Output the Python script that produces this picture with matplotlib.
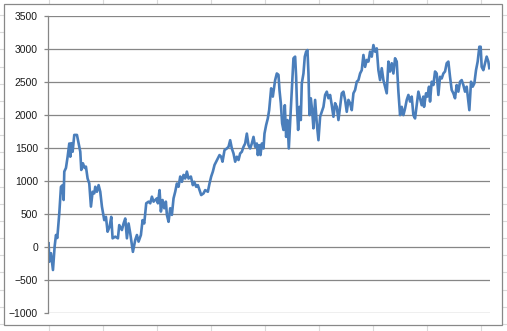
import matplotlib
matplotlib.use("Agg")
import matplotlib.pyplot as plt
from matplotlib.patches import Rectangle

# series (x = step index, y = cumulative value)
steps = [1, 3, 8, 14, 19, 23, 27, 33, 38, 43, 46, 48, 53, 58, 63, 66, 69, 73, 78, 86,
         91, 96, 99, 104, 109, 113, 118, 123, 128, 133, 138, 141, 146, 151, 156, 161, 168, 173, 178, 184,
         189, 193, 201, 209, 213, 221, 226, 231, 236, 241, 246, 251, 254, 261, 266, 271, 278, 283, 288, 294,
         301, 306, 311, 316, 321, 326, 329, 334, 338, 343, 348, 353, 356, 361, 366, 371, 376, 381, 386, 391,
         396, 401, 406, 411, 416, 421, 428, 434, 438, 444, 449, 459, 466, 471, 479, 484, 489, 494, 499, 504,
         509, 514, 519, 523, 529, 536, 541, 546, 551, 556, 561, 566, 571, 576, 581, 586, 591, 596, 601, 606,
         611, 616, 621, 626, 629, 633, 637, 641, 646, 649, 654, 659, 663, 669, 674, 681, 686, 691, 694, 698,
         702, 706, 710, 714, 718, 722, 726, 730, 733, 736, 741, 744, 747, 750, 754, 758, 761, 766, 770, 774,
         778, 781, 784, 788, 792, 796, 801, 806, 811, 816, 821, 826, 831, 836, 841, 846, 851, 856, 861, 866,
         871, 876, 881, 886, 891, 896, 901, 906, 911, 916, 921, 926, 931, 936, 941, 946, 951, 956, 961, 966,
         971, 976, 981, 986, 991, 996, 1001, 1006, 1011, 1016, 1021, 1026, 1031, 1036, 1041, 1046, 1051, 1056, 1061, 1066,
         1071, 1076, 1081, 1086, 1091, 1096, 1101, 1106, 1111, 1121, 1126, 1128, 1134, 1138, 1143, 1146, 1151, 1156, 1161, 1166,
         1171, 1176, 1181, 1186, 1191, 1196, 1201, 1206, 1211, 1216, 1221, 1226, 1231, 1236, 1241, 1246, 1251, 1256, 1261, 1264,
         1269, 1274, 1279, 1284, 1289, 1294, 1298, 1301, 1306, 1311, 1316, 1321, 1324]
values = [60, -220, -90, -345, 10, 185, 140, 515, 915, 940, 715, 1145, 1200, 1370, 1570, 1370, 1575, 1445, 1700, 1700,
          1575, 1445, 1170, 1270, 1200, 1220, 1040, 965, 615, 840, 815, 915, 840, 940, 840, 615, 410, 460, 235, 310,
          460, 135, 160, 135, 335, 260, 360, 435, 135, 360, 210, 35, -70, 110, 185, 85, 185, 410, 360, 665,
          690, 665, 765, 690, 715, 740, 665, 865, 540, 715, 590, 690, 490, 385, 590, 490, 740, 840, 965, 915,
          1070, 990, 1095, 1040, 1145, 1040, 1070, 940, 990, 915, 940, 790, 815, 865, 840, 965, 1070, 1145, 1245, 1295,
          1345, 1395, 1370, 1295, 1470, 1495, 1520, 1620, 1495, 1420, 1295, 1370, 1320, 1420, 1445, 1520, 1570, 1720, 1545, 1495,
          1570, 1670, 1520, 1570, 1395, 1545, 1395, 1570, 1495, 1720, 1850, 1950, 2075, 2405, 2280, 2530, 2630, 2610, 2380, 2180,
          1875, 1775, 2150, 1670, 1925, 1495, 1875, 2280, 2580, 2860, 2885, 2580, 2075, 1775, 2125, 1925, 2480, 2630, 2885, 2960,
          2985, 2630, 2000, 2255, 2075, 1800, 2230, 1875, 1620, 1975, 2050, 2125, 2305, 2355, 2255, 2305, 2150, 1975, 2180, 2125,
          1925, 2125, 2330, 2355, 2230, 2050, 2230, 2180, 2075, 2330, 2380, 2505, 2530, 2630, 2680, 2910, 2730, 2835, 2810, 2960,
          2885, 3060, 2960, 3010, 2680, 2530, 2710, 2530, 2430, 2330, 2810, 2660, 2785, 2630, 2860, 2810, 2355, 2000, 2125, 2000,
          2100, 2230, 2305, 2205, 2280, 2000, 1950, 2150, 2355, 2150, 2280, 2125, 2330, 2280, 2430, 2205, 2505, 2455, 2660, 2630,
          2305, 2580, 2555, 2630, 2660, 2785, 2810, 2580, 2380, 2330, 2255, 2455, 2355, 2505, 2530, 2455, 2355, 2430, 2205, 2075,
          2505, 2430, 2480, 2680, 2810, 3035, 3035, 2730, 2680, 2785, 2885, 2810, 2710]

yticks = list(range(-1000, 3501, 500))

W, H = 507, 331
fig = plt.figure(figsize=(W / 100, H / 100), dpi=100)

# spreadsheet cells behind the chart
bg = fig.add_axes([0, 0, 1, 1])
bg.set_xlim(0, W)
bg.set_ylim(H, 0)
bg.axis("off")
for cx in range(-5, W + 60, 54):
    bg.axvline(cx, color="#dadada", lw=0.8, zorder=1)
y = 15.1
while y < H:
    bg.axhline(y, color="#dadada", lw=0.8, zorder=1)
    y += 17.15
bg.add_patch(Rectangle((4, 4), 498, 321, facecolor="white", edgecolor="#888888",
                       lw=0.9, zorder=3))

# chart plot area
ax = fig.add_axes([48.3 / W, (H - 313.3) / H, (490 - 48.3) / W, (313.3 - 16) / H])
ax.set_facecolor("none")
ax.plot(steps, values, color="#4a7ebb", lw=1.9, solid_joinstyle="round")
ax.set_xlim(0, 1326)
ax.set_ylim(-1000, 3500)
ax.set_yticks(yticks)
ax.yaxis.grid(True, color="#868686", lw=0.9)
ax.set_axisbelow(True)
ax.set_xticks([])
for s in ["top", "right", "bottom"]:
    ax.spines[s].set_visible(False)
ax.spines["left"].set_color("#868686")
ax.spines["left"].set_linewidth(0.9)
ax.tick_params(axis="y", length=3, width=0.9, color="#868686", pad=4.5,
               labelsize=7.5, labelcolor="#1a1a1a")
for lbl in ax.get_yticklabels():
    lbl.set_fontfamily("Liberation Sans")

fig.savefig("out.png", dpi=100)
